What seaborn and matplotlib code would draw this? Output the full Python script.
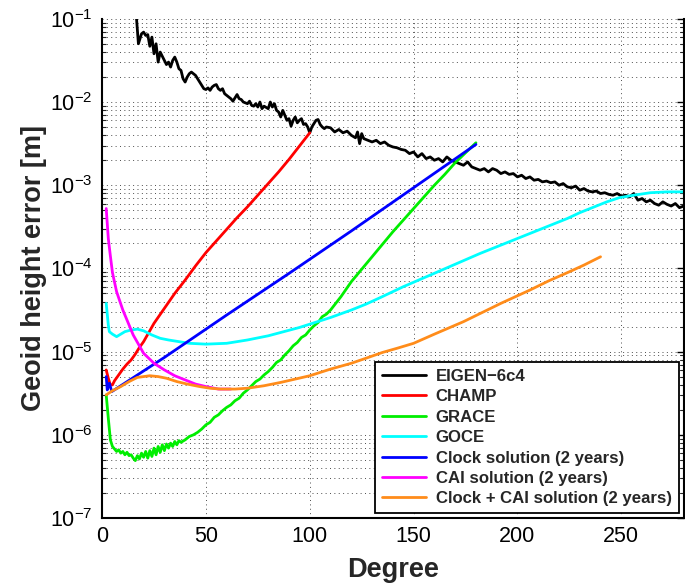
import numpy as np
import pandas as pd
import matplotlib
matplotlib.use("Agg")
import matplotlib.pyplot as plt
from matplotlib.ticker import FixedLocator, MultipleLocator, NullLocator, NullFormatter, LogFormatterSciNotation
import seaborn as sns

# values, stored as log10(geoid height error [m])
eigen_deg = [16, 17.5, 19, 20, 21, 22, 23, 24, 25, 26, 27, 28, 29, 30, 31, 32, 33, 34, 35, 36,
             37, 38, 39, 40, 41, 42, 43, 44, 45, 46, 47, 48, 49, 50, 51, 52, 53, 54, 55, 56,
             57, 58, 59, 60, 62, 63, 64, 65, 66, 67, 68, 70, 71, 72, 73, 74, 75, 76, 77, 78,
             80, 81, 82, 83, 84, 85, 86, 87, 88, 89, 90, 91, 92, 93, 94, 95, 96, 97, 98, 99,
             100, 101, 102, 103, 104, 105, 106, 107, 108, 110, 112, 114, 116, 118, 120, 122, 123, 124, 125, 126,
             128, 130, 132, 134, 136, 138, 140, 142, 144, 146, 148, 150, 152, 154, 156, 158, 160, 162, 164, 166,
             168, 170, 172, 174, 176, 178, 180, 182, 184, 186, 188, 190, 192, 194, 196, 198, 200, 202, 204, 206,
             208, 210, 212, 214, 216, 218, 220, 222, 224, 226, 228, 230, 232, 234, 236, 238, 240, 242, 244, 246,
             248, 250, 252, 254, 256, 258, 260, 262, 264, 266, 268, 270, 272, 274, 276, 278, 280]
eigen_log = [-0.80, -1.30, -1.18, -1.16, -1.20, -1.19, -1.33, -1.22, -1.42, -1.30, -1.52, -1.40, -1.45, -1.50, -1.55, -1.52, -1.58, -1.50, -1.46, -1.52,
             -1.60, -1.62, -1.72, -1.76, -1.70, -1.66, -1.64, -1.66, -1.68, -1.72, -1.76, -1.80, -1.84, -1.85, -1.83, -1.86, -1.82, -1.80, -1.79, -1.84,
             -1.86, -1.84, -1.90, -1.92, -1.96, -1.99, -1.95, -1.91, -1.96, -1.97, -2.00, -2.02, -1.99, -2.04, -2.05, -2.02, -2.06, -2.00, -2.08, -2.05,
             -2.08, -2.00, -2.06, -2.02, -2.10, -2.12, -2.18, -2.10, -2.16, -2.22, -2.20, -2.29, -2.22, -2.18, -2.25, -2.22, -2.20, -2.27, -2.26, -2.30,
             -2.37, -2.30, -2.26, -2.22, -2.21, -2.27, -2.30, -2.32, -2.30, -2.31, -2.36, -2.33, -2.37, -2.35, -2.40, -2.43, -2.36, -2.50, -2.38, -2.44,
             -2.46, -2.48, -2.46, -2.50, -2.48, -2.52, -2.54, -2.55, -2.57, -2.58, -2.62, -2.60, -2.66, -2.62, -2.68, -2.66, -2.70, -2.68, -2.72, -2.66,
             -2.70, -2.72, -2.74, -2.76, -2.72, -2.78, -2.80, -2.82, -2.80, -2.84, -2.80, -2.82, -2.86, -2.84, -2.87, -2.86, -2.90, -2.88, -2.92, -2.90,
             -2.94, -2.93, -2.96, -2.95, -2.97, -2.96, -3.00, -2.98, -3.02, -3.03, -3.01, -3.06, -3.04, -3.07, -3.08, -3.07, -3.10, -3.09, -3.11, -3.12,
             -3.10, -3.13, -3.12, -3.14, -3.10, -3.18, -3.16, -3.20, -3.18, -3.22, -3.24, -3.20, -3.23, -3.25, -3.22, -3.27, -3.25]

champ_deg = [2, 3, 4, 5, 6, 8, 10, 12, 14, 16, 18, 20, 25, 30, 35, 40, 45, 50, 55, 60, 65, 70, 75, 80, 85, 90, 95, 100]
champ_log = [-5.22, -5.32, -5.40, -5.40, -5.35, -5.28, -5.21, -5.15, -5.10, -5.03, -4.95, -4.88, -4.66, -4.48,
             -4.30, -4.14, -3.97, -3.81, -3.67, -3.53, -3.39, -3.26, -3.12, -2.98, -2.84, -2.69, -2.53, -2.37]

grace_deg = [2, 3, 4, 5, 6, 7, 8, 9, 10, 11, 12, 13, 14, 15, 16, 17, 18, 19, 20, 21,
             22, 23, 24, 25, 26, 27, 28, 29, 30, 31, 32, 33, 34, 35, 36, 37, 38, 40, 42, 44,
             46, 48, 50, 52, 54, 56, 58, 60, 62, 64, 66, 68, 70, 72, 74, 76, 78, 80, 82, 84,
             86, 88, 90, 92, 94, 96, 98, 100, 102, 104, 106, 108, 110, 115, 120, 125, 130, 135, 140, 145,
             150, 155, 160, 165, 170, 175, 180]
grace_log = [-5.52, -5.80, -6.06, -6.14, -6.17, -6.20, -6.18, -6.22, -6.20, -6.24, -6.21, -6.25, -6.24, -6.28, -6.31, -6.25, -6.29, -6.22, -6.27, -6.20,
             -6.28, -6.19, -6.26, -6.16, -6.24, -6.14, -6.21, -6.12, -6.19, -6.11, -6.16, -6.10, -6.14, -6.08, -6.12, -6.07, -6.09, -6.06, -6.02, -6.00,
             -5.97, -5.93, -5.88, -5.85, -5.79, -5.76, -5.71, -5.67, -5.64, -5.59, -5.56, -5.50, -5.46, -5.41, -5.36, -5.33, -5.28, -5.24, -5.19, -5.13,
             -5.10, -5.04, -4.99, -4.93, -4.89, -4.83, -4.80, -4.74, -4.69, -4.65, -4.58, -4.55, -4.50, -4.34, -4.16, -4.01, -3.86, -3.71, -3.56, -3.42,
             -3.28, -3.14, -3.00, -2.87, -2.73, -2.61, -2.49]

goce_deg = [2, 3, 3.5, 5, 7, 9, 11, 14, 17, 20, 24, 28, 32, 37, 42, 50, 60, 70, 80, 86,
            95, 100, 110, 120, 127, 134, 145, 158, 170, 182, 191, 200, 209, 216, 224, 230, 237, 243, 249, 256,
            264, 272, 280]
goce_log = [-4.42, -4.68, -4.76, -4.79, -4.82, -4.79, -4.76, -4.74, -4.73, -4.75, -4.80, -4.84, -4.86, -4.88, -4.90, -4.91, -4.90, -4.86, -4.81, -4.77,
            -4.71, -4.67, -4.59, -4.50, -4.43, -4.35, -4.22, -4.08, -3.95, -3.82, -3.73, -3.64, -3.55, -3.48, -3.40, -3.33, -3.26, -3.20, -3.15, -3.12,
            -3.09, -3.08, -3.08]

clock_deg = [2, 2.5, 3.5, 4.7, 30, 60, 90, 120, 150, 180]
clock_log = [-5.30, -5.46, -5.38, -5.48, -5.07, -4.56, -4.06, -3.55, -3.03, -2.51]

cai_deg = [2, 3, 4, 5, 7, 10, 15, 20, 25, 30, 35, 40, 45, 50, 56, 62]
cai_log = [-3.28, -3.64, -3.85, -4.05, -4.28, -4.50, -4.80, -5.02, -5.14, -5.22, -5.29, -5.34, -5.39, -5.42,
           -5.45, -5.45]

combo_deg = [2, 5, 9, 13, 17, 20, 23, 27, 31, 36, 41, 47, 52, 57, 64, 70, 78, 86, 93, 100,
             110, 120, 127, 135, 142, 150, 160, 174, 183, 192, 206, 215, 225, 232, 240]
combo_log = [-5.52, -5.47, -5.42, -5.36, -5.31, -5.30, -5.29, -5.30, -5.32, -5.36, -5.39, -5.42, -5.44, -5.45, -5.45, -5.44, -5.41, -5.37, -5.33, -5.29,
             -5.21, -5.14, -5.08, -5.01, -4.96, -4.90, -4.79, -4.64, -4.53, -4.42, -4.26, -4.15, -4.04, -3.96, -3.86]

labels = ["EIGEN\u22126c4", "CHAMP", "GRACE", "GOCE",
          "Clock solution (2 years)", "CAI solution (2 years)", "Clock + CAI solution (2 years)"]
colors = ["#000000", "#ff0000", "#00ee00", "#00ffff", "#0000ff", "#ff00ff", "#ff8c1a"]
y_decades = [1e-7, 1e-6, 1e-5, 1e-4, 1e-3, 1e-2, 1e-1]

series = [(eigen_deg, eigen_log), (champ_deg, champ_log), (grace_deg, grace_log), (goce_deg, goce_log),
          (clock_deg, clock_log), (cai_deg, cai_log), (combo_deg, combo_log)]

frames = []
for name, (deg, lg) in zip(labels, series):
    frames.append(pd.DataFrame({"Degree": deg, "err": 10 ** np.asarray(lg), "model": name}))
df = pd.concat(frames, ignore_index=True)

sns.set_style("white")
plt.rcParams["font.family"] = ["Liberation Sans", "DejaVu Sans"]
plt.rcParams["mathtext.default"] = "regular"

fig = plt.figure(figsize=(6.85, 5.88), dpi=100)
ax = fig.add_axes([0.149, 0.119, 0.849, 0.849])

sns.lineplot(data=df, x="Degree", y="err", hue="model", hue_order=labels,
             palette=dict(zip(labels, colors)), estimator=None, sort=False,
             linewidth=2.0, ax=ax)

ax.set_yscale("log")
ax.set_xlim(0, 280)
ax.set_ylim(1e-7, 1e-1)
ax.xaxis.set_major_locator(MultipleLocator(50))
ax.xaxis.set_minor_locator(NullLocator())
ax.yaxis.set_major_locator(FixedLocator(y_decades))
ax.yaxis.set_major_formatter(LogFormatterSciNotation())
minor = [m * d for d in y_decades[:-1] for m in range(2, 10)]
ax.yaxis.set_minor_locator(FixedLocator(minor))
ax.yaxis.set_minor_formatter(NullFormatter())

ax.set_axisbelow(True)
ax.grid(True, which="major", axis="both", color="0.3", linestyle=(0, (1, 3.5)), linewidth=0.7)
ax.grid(True, which="minor", axis="y", color="0.3", linestyle=(0, (1, 3.5)), linewidth=0.7)

for side in ["left", "bottom", "right"]:
    ax.spines[side].set_color("black")
    ax.spines[side].set_linewidth(1.5)
ax.spines["top"].set_visible(False)

ax.tick_params(axis="both", which="major", direction="in", length=5, width=1,
               labelsize=15.5, colors="black", right=True, top=False)
ax.tick_params(axis="y", which="major", pad=7)
ax.tick_params(axis="x", which="major", pad=6)
ax.tick_params(axis="y", which="minor", direction="in", length=3, width=0.8, right=True, left=True)

ax.set_xlabel("Degree", fontsize=19.5, fontweight="bold", labelpad=7)
ax.set_ylabel("Geoid height error [m]", fontsize=19.5, fontweight="bold", labelpad=2)

handles, lbls = ax.get_legend_handles_labels()
leg = ax.legend(handles, lbls, loc="lower right", prop=dict(weight="bold", size=12.1),
                frameon=True, fancybox=False, edgecolor="black", framealpha=1,
                handlelength=2.6, labelspacing=0.32, borderpad=0.4,
                handletextpad=0.6, borderaxespad=0.3)
leg.get_frame().set_linewidth(1.3)
for line in leg.get_lines():
    line.set_linewidth(2.0)

fig.savefig("out.png", dpi=100)
plt.close(fig)
